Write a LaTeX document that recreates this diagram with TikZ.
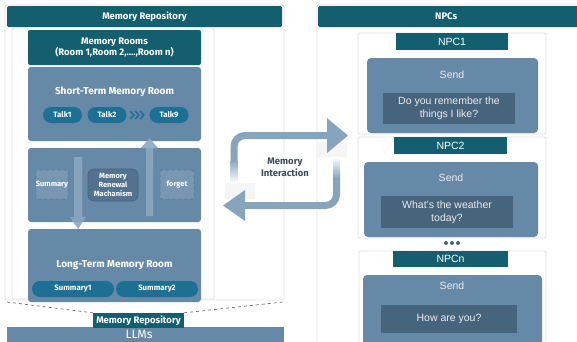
\documentclass[tikz,border=0pt]{standalone}
\usepackage{fontspec}
\setmainfont{Liberation Sans}
\newfontfamily\fira{Fira Sans}
\usetikzlibrary{shapes.misc}
\definecolor{tealc}{HTML}{135F70}
\definecolor{steel}{HTML}{6689A8}
\definecolor{pillc}{HTML}{1D6F93}
\definecolor{msgc}{HTML}{47647D}
\definecolor{arrowc}{HTML}{87A4BD}
\definecolor{renc}{HTML}{52728F}
\definecolor{renb}{HTML}{44617C}
\definecolor{dboxc}{HTML}{7897B3}
\definecolor{dboxb}{HTML}{4F6E8A}
\definecolor{iarrc}{HTML}{8BA8C2}
\definecolor{txtc}{HTML}{3F4B5A}
\tikzset{
  panel/.style={fill=white, draw=black!12, line width=0.7pt, rounded corners=2pt},
  hdr/.style={fill=tealc, text=white, inner sep=0, rounded corners=1.5pt, font=\fira\bfseries\fontsize{9.5}{10}\selectfont},
  room/.style={fill=steel, rounded corners=3pt, inner sep=0},
  roomtitle/.style={text=white, font=\fira\bfseries\fontsize{10}{11}\selectfont},
  pill/.style={rounded rectangle, fill=pillc, text=white, inner sep=0, font=\fira\bfseries\fontsize{7.8}{8}\selectfont},
  dbox/.style={fill=dboxc, draw=dboxb, dashed, line width=0.5pt, rounded corners=1.5pt, text=white, inner sep=0, font=\fira\bfseries\fontsize{7.5}{8}\selectfont},
  renbox/.style={fill=renc, draw=renb, line width=0.6pt, rounded corners=6pt, text=white, inner sep=0, align=center, font=\fira\bfseries\fontsize{7.5}{9.2}\selectfont},
  iarrow/.style={fill=iarrc, fill opacity=0.9},
  npclabel/.style={fill=tealc, text=white, inner sep=0, font=\fontsize{10.5}{12}\selectfont},
  sendbox/.style={fill=steel, rounded corners=4pt, inner sep=0},
  sendtxt/.style={text=white!92!black, font=\fontsize{10.5}{12}\selectfont},
  msgbox/.style={fill=msgc, text=white!92!black, inner sep=0, align=center, font=\fontsize{10.5}{13}\selectfont},
  looparrow/.style={draw=arrowc, line width=7pt, rounded corners=11pt},
}
\begin{document}
\begin{tikzpicture}[x=1pt,y=-1pt]
\useasboundingbox (0,0) rectangle (577,341);
\clip (0,0) rectangle (577,341);
\fill[white] (0,0) rectangle (577,341);

% ---------- left panel ----------
\draw[panel] (5,5) rectangle (284,300);
\node[hdr, minimum width=275pt, minimum height=21pt] (memrep) at (144.5,16.5) {Memory Repository};
\draw[panel] (12,28) rectangle (214,299);

\node[fill=tealc, inner sep=0, rounded corners=2pt, minimum width=173pt, minimum height=35pt, text=white, align=center,
      font=\fira\bfseries\fontsize{9.5}{11.5}\selectfont] (rooms) at (114.5,47.5) {Memory Rooms\\(Room 1,Room 2,....,Room n)};

\node[room, minimum width=173pt, minimum height=74pt] (short) at (114.5,104) {};
\node[roomtitle] (shorttitle) at (114.5,92) {Short-Term Memory Room};
\node[pill, minimum width=39pt, minimum height=16pt] (talk1) at (62.5,115) {Talk1};
\node[pill, minimum width=39pt, minimum height=16pt] (talk2) at (107,115) {Talk2};
\node[pill, minimum width=39pt, minimum height=16pt] (talk9) at (169,115) {Talk9};
\foreach \cx in {132,137,142}{
  \draw[pillc, line width=1.5pt] (\cx-1.8,111) -- (\cx+1.8,115) -- (\cx-1.8,119);
}

\node[room, minimum width=173pt, minimum height=74pt] (mid) at (114.5,185) {};
\node[dbox, minimum width=32pt, minimum height=29pt] (summ) at (52,184.5) {Summary};
\node[renbox, minimum width=50pt, minimum height=32pt] (renew) at (113,185) {Memory\\Renewal\\Machanism};
\node[dbox, minimum width=34pt, minimum height=29pt] (forget) at (177,184.5) {forget};

\node[room, minimum width=173pt, minimum height=73pt] (long) at (114.5,265.5) {};
\node[roomtitle] (longtitle) at (114.5,265) {Long-Term Memory Room};
\node[pill, minimum width=82pt, minimum height=16pt] (sum1) at (73,289) {Summary1};
\node[pill, minimum width=82pt, minimum height=16pt] (sum2) at (157,289) {Summary2};

% inner arrows
\fill[iarrow] (74,157) -- (82,157) -- (82,217) -- (86,217) -- (78,229) -- (70,217) -- (74,217) -- cycle;
\fill[iarrow] (146,216) -- (153,216) -- (153,148) -- (158,148) -- (149.5,138) -- (141,148) -- (146,148) -- cycle;

% dashed connection to LLMs
\coordinate (dl1) at (7,302);
\coordinate (dr1) at (283,302);
\node[fill=steel, inner sep=0, minimum width=277pt, minimum height=16pt] (llm) at (145.5,335) {};
\node[text=white, font=\fira\fontsize{12}{13}\selectfont] (llmtxt) at (139,334) {LLMs};
\node[hdr, rounded corners=0pt, minimum width=91pt, minimum height=15pt] (replabel) at (138.5,320.5) {Memory Repository};
\draw[black!65, dashed, line width=0.6pt] (dl1) -- (replabel.north west);
\draw[black!65, dashed, line width=0.6pt] (replabel.north east) -- (dr1);

% ---------- right panel ----------
\draw[panel] (317,5) rectangle (600,360);
\node[hdr, minimum width=262pt, minimum height=21pt, anchor=west] (npcs) at (318,16.5) {\hspace*{-6pt}NPCs};

% NPC1
\draw[panel] (358,33) rectangle (546,134);
\node[sendbox, minimum width=171pt, minimum height=75pt] (send1) at (452.5,95.5) {};
\node[npclabel, minimum width=112pt, minimum height=17pt] (npc1) at (452,41.5) {NPC1};
\node[sendtxt] (s1) at (452,75) {Send};
\node[msgbox, minimum width=132pt, minimum height=31pt] (m1) at (449,108.5) {Do you remember the\\things I like?};

% NPC2
\draw[panel] (358,137) rectangle (546,238);
\node[sendbox, minimum width=174pt, minimum height=75pt] (send2) at (451,199.5) {};
\node[npclabel, minimum width=113pt, minimum height=17pt] (npc2) at (450.5,145.5) {NPC2};
\node[sendtxt] (s2) at (451,178) {Send};
\node[msgbox, minimum width=132pt, minimum height=32pt] (m2) at (447,212) {What's the weather\\today?};

% dots
\foreach \dx in {446,452,458}{\fill[msgc] (\dx,243) circle (2pt);}

% NPCn
\draw[panel] (359,251) rectangle (546,360);
\node[sendbox, minimum width=179pt, minimum height=80pt] (sendn) at (452.5,315) {};
\node[npclabel, minimum width=115pt, minimum height=16pt] (npcn) at (450.5,259) {NPCn};
\node[sendtxt] (sn) at (452,286) {Send};
\node[msgbox, minimum width=136pt, minimum height=28pt] (mn) at (449,319) {How are you?};

% ---------- memory interaction ----------
\fill[black!4] (225,183) rectangle (255,199);
\fill[black!4] (318,142) rectangle (347,157);
\draw[looparrow] (234,160) -- (234,135.5) -- (328,135.5);
\fill[arrowc] (327,118) -- (348,135.5) -- (327,153) -- cycle;
\shade[top color=arrowc, bottom color=white] (230.5,160) rectangle (237.5,183);
\draw[looparrow] (336.5,178) -- (336.5,205.5) -- (244,205.5);
\fill[arrowc] (245,190) -- (223,205.5) -- (245,221) -- cycle;
\shade[top color=white, bottom color=arrowc] (333,157) rectangle (340,178);
\node[text=txtc, align=center, font=\fira\bfseries\fontsize{9.5}{11.5}\selectfont] (inter) at (285,167.5) {Memory\\Interaction};
\end{tikzpicture}
\end{document}
